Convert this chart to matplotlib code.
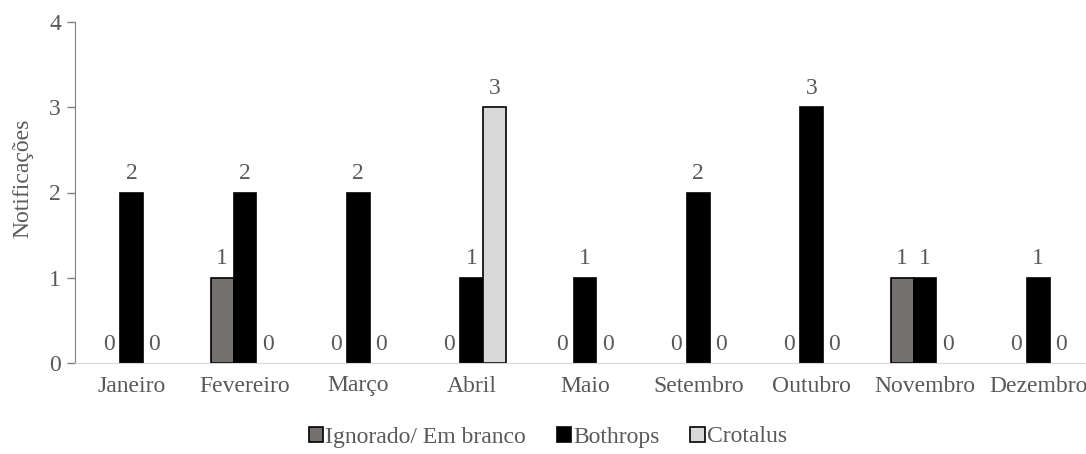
import numpy as np
import matplotlib
matplotlib.use("Agg")
import matplotlib.pyplot as plt
from matplotlib.patches import Patch

meses = ["Janeiro", "Fevereiro", "Março", "Abril", "Maio", "Setembro",
         "Outubro", "Novembro", "Dezembro"]
ignorado = [0, 1, 0, 0, 0, 0, 0, 1, 0]
bothrops = [2, 2, 2, 1, 1, 2, 3, 1, 1]
crotalus = [0, 0, 0, 3, 0, 0, 0, 0, 0]

plt.rcParams['font.family'] = ['Liberation Serif', 'DejaVu Serif']
txt = '#595959'
fs = 17

fig = plt.figure(figsize=(10.86, 4.54), dpi=100)
# axes runs a bit past the right edge, like the original
ax = fig.add_axes([75 / 1086, 1 - 363 / 454, 1020 / 1086, 341 / 454])

x = np.arange(len(meses))
w = 0.2
series = [(ignorado, '#767171', 'Ignorado/ Em branco', -w),
          (bothrops, '#000000', 'Bothrops', 0),
          (crotalus, '#d9d9d9', 'Crotalus', w)]
handles = []
for vals, cor, nome, off in series:
    lw = [1.2 if v > 0 else 0 for v in vals]
    bars = ax.bar(x + off, vals, w, color=cor, edgecolor='black', linewidth=lw)
    handles.append(Patch(facecolor=cor, edgecolor='black', linewidth=1.2, label=nome))
    for b, v in zip(bars, vals):
        ax.annotate(str(v), (b.get_x() + b.get_width() / 2, v), xytext=(0, 6),
                    textcoords='offset points', ha='center', va='bottom',
                    fontsize=fs, color=txt)

ax.set_xlim(-0.5, len(meses) - 0.5)
ax.set_ylim(0, 4)
ax.set_yticks([0, 1, 2, 3, 4])
ax.set_xticks(x)
ax.set_xticklabels(meses)
ax.tick_params(axis='x', length=0, pad=9, labelsize=fs, colors=txt)
ax.tick_params(axis='y', length=6, width=1, color='#808080', labelsize=fs, colors=txt, pad=4)
ax.spines['top'].set_visible(False)
ax.spines['right'].set_visible(False)
ax.spines['left'].set_color('#808080')
ax.spines['bottom'].set_color('#d9d9d9')
ax.set_ylabel('Notificações', fontsize=fs, color=txt)
ax.yaxis.set_label_coords(-0.041, 0.543)

fig.legend(handles=handles, loc='center', bbox_to_anchor=(548 / 1086, 1 - 437 / 454), ncol=3,
           frameon=False, fontsize=fs, handlelength=0.6, handleheight=0.6, handletextpad=0.1,
           columnspacing=1.3, labelcolor=txt)

fig.savefig('out.png', dpi=100)
